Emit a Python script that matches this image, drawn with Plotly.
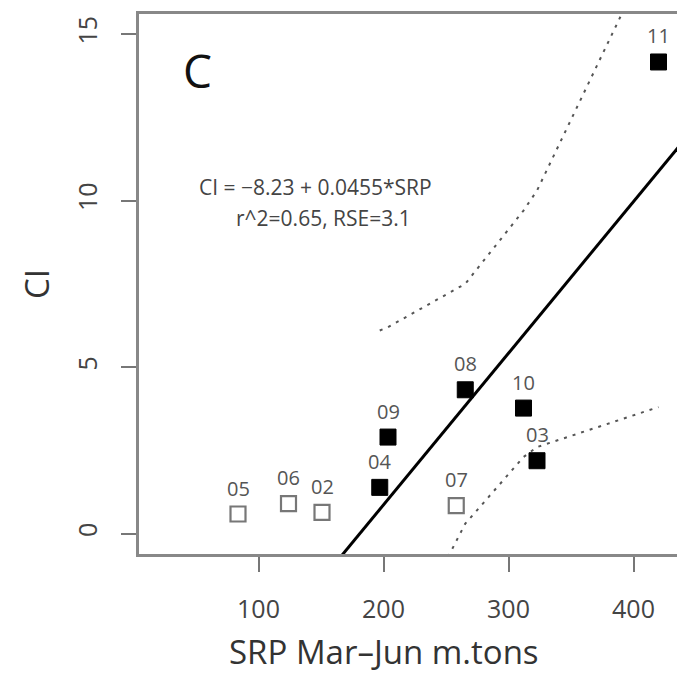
import plotly.graph_objects as go

# Data
filled_labels = ["04", "09", "08", "10", "03", "11"]
filled_srp = [197, 203.6, 265.4, 312, 322.8, 420]
filled_ci = [1.39, 2.9, 4.32, 3.77, 2.19, 14.16]

open_labels = ["05", "06", "02", "07"]
open_srp = [83.6, 124, 150.8, 258.2]
open_ci = [0.59, 0.9, 0.64, 0.84]

fit_srp = [150, 440]
fit_ci = [-1.41, 11.79]

band_upper = [6.1, 6.2, 7.5, 9.7, 10.3, 17.9]
band_lower = [-4.8, -4.2, 0.3, 2.3, 2.6, 3.8]

x_ticks = [100, 200, 300, 400]
y_ticks = [0, 5, 10, 15]

W, H = 677, 677
L, R, T, B = 139, 0, 14, 123

fig = go.Figure()

band_style = dict(color="#555555", width=2, dash="3px,6px")
fig.add_trace(go.Scatter(x=filled_srp, y=band_upper, mode="lines", line=band_style, hoverinfo="skip"))
fig.add_trace(go.Scatter(x=filled_srp, y=band_lower, mode="lines", line=band_style, hoverinfo="skip"))
fig.add_trace(go.Scatter(x=fit_srp, y=fit_ci, mode="lines", line=dict(color="black", width=3), hoverinfo="skip"))

fig.add_trace(go.Scatter(
    x=open_srp, y=open_ci, mode="markers",
    marker=dict(symbol="square-open", size=15, color="#777777", line=dict(width=2.2, color="#777777")),
    cliponaxis=False,
))
fig.add_trace(go.Scatter(
    x=filled_srp, y=filled_ci, mode="markers",
    marker=dict(symbol="square", size=16, color="black", line=dict(width=1, color="black")),
    cliponaxis=False,
))

label_font = dict(family="Open Sans", size=20, color="#555555")
for lab, xv, yv in zip(open_labels + filled_labels, open_srp + filled_srp, open_ci + filled_ci):
    fig.add_annotation(x=xv, y=yv, text=lab, showarrow=False, yshift=26, xanchor="center",
                       yanchor="middle", font=label_font)

pw = W - L - R
ph = H - T - B


def px(x):
    return (x - L) / pw


def py(y):
    return (H - B - y) / ph


# Panel letter
fig.add_annotation(xref="paper", yref="paper", x=px(197), y=py(70), xanchor="center", yanchor="middle",
                   text="C", showarrow=False, font=dict(family="Open Sans", size=46, color="#111111"))
# Equation
eq_font = dict(family="Open Sans", size=21, color="#444444")
fig.add_annotation(xref="paper", yref="paper", x=px(315), y=py(187), xanchor="center", yanchor="middle",
                   text="CI = \u22128.23 + 0.0455*SRP", showarrow=False, font=eq_font)
fig.add_annotation(xref="paper", yref="paper", x=px(323), y=py(218), xanchor="center", yanchor="middle",
                   text="r^2=0.65, RSE=3.1", showarrow=False, font=eq_font)

# Axis titles
fig.add_annotation(xref="paper", yref="paper", x=px(384), y=py(676), xanchor="center", yanchor="bottom",
                   text="SRP Mar\u2013Jun m.tons", showarrow=False,
                   font=dict(family="Open Sans", size=33, color="#333333"))
fig.add_annotation(xref="paper", yref="paper", x=px(36), y=py(284), xanchor="center", yanchor="middle",
                   text="CI", showarrow=False, textangle=-90,
                   font=dict(family="Open Sans", size=33, color="#333333"))

axis_common = dict(
    showgrid=False, zeroline=False, showline=True, linecolor="#888888", linewidth=2.5,
    mirror=True, ticks="outside", ticklen=15, tickwidth=2, tickcolor="#777777",
    tickfont=dict(family="Open Sans", size=25, color="#444444"), automargin=False,
)
fig.update_xaxes(range=[4.4, 434.8], tickvals=x_ticks, ticklabelstandoff=16, **axis_common)
fig.update_yaxes(range=[-0.61, 15.6], tickvals=y_ticks, tickangle=-90, ticklabelstandoff=14, **axis_common)

fig.update_layout(
    width=W, height=H, margin=dict(l=L, r=R, t=T, b=B, pad=0),
    paper_bgcolor="white", plot_bgcolor="white", showlegend=False,
)

fig.write_html("out.html", config={"displayModeBar": False},
               post_script="document.body.style.margin='0';document.body.style.overflow='hidden';")
